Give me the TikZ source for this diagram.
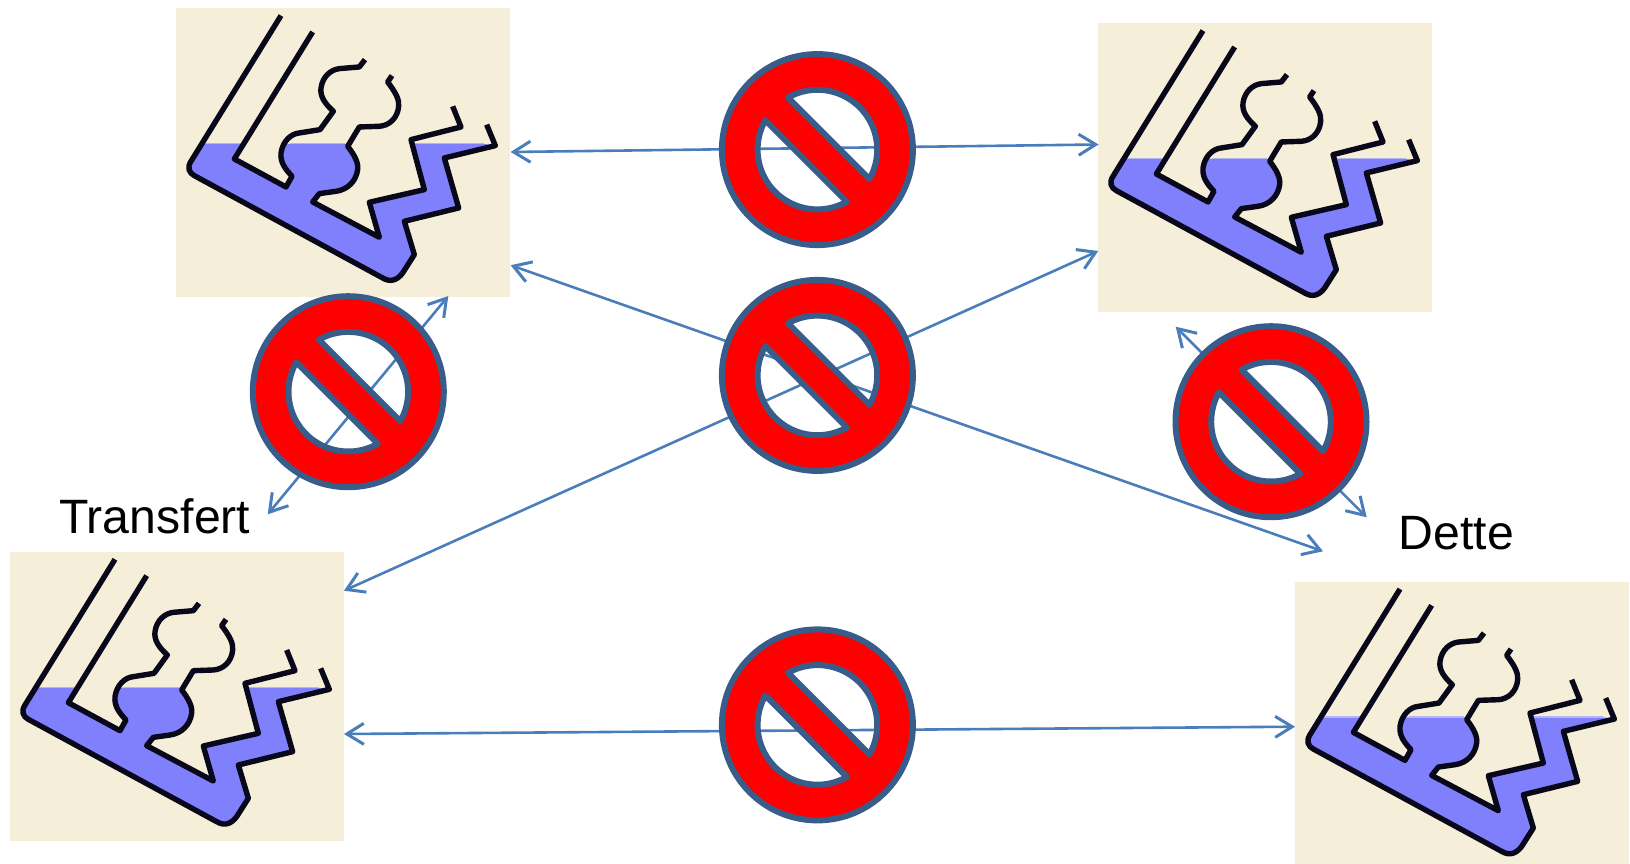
\documentclass[tikz,border=0pt]{standalone}
\usepackage{fontspec}
\setmainfont{Liberation Sans}
\usetikzlibrary{arrows.meta}
\definecolor{beige}{HTML}{F5EFD9}
\definecolor{waterblue}{HTML}{8080FC}
\definecolor{watertop}{HTML}{B4B4F0}
\definecolor{inkblack}{HTML}{08081A}
\definecolor{linkblue}{HTML}{4A7EBB}
\definecolor{signedge}{HTML}{385D8A}
\tikzset{
  iconbox/.style={fill=beige,draw=none,inner sep=0pt,outer sep=0pt,minimum width=334pt,minimum height=288.7pt,anchor=north west},
  waterfill/.style={fill=waterblue,draw=none},
  waterline/.style={draw=watertop,line width=1.2pt},
  inkline/.style={draw=inkblack,line width=5.4pt,line join=round},
  link/.style={draw=linkblue,line width=2.6pt,{Straight Barb[length=17pt,width=21pt,line width=3pt]}-{Straight Barb[length=17pt,width=21pt,line width=3pt]}},
  signshape/.style={fill=red,draw=signedge,line width=6pt,line join=round,even odd rule},
  caption/.style={font=\fontsize{48.2pt}{50pt}\selectfont,text=black,inner sep=0pt,anchor=base west}
}
\newcommand\iconart[2]{%
\begin{scope}[shift={(#1,#2)},xscale=1/3,yscale=1/3]
\path[waterfill] (112,623) -- (75,675) .. controls (62,695) and (70,710) .. (85,718) -- (650,1025)
  .. controls (675,1040) and (695,1030) .. (710,1010) -- (745,955) -- (715,855) -- (878,815) -- (835,665) -- (988,628)
  -- (955,623) -- (740,623) -- (775,760) -- (610,798) -- (640,903) -- (440,797) -- (460,772) -- (510,765)
  .. controls (545,760) and (570,735) .. (575,700) .. controls (578,680) and (565,655) .. (545,630)
  -- (540,623) -- (358,623) .. controls (350,632) and (346,640) .. (345,650) .. controls (342,680) and (360,700) .. (378,720)
  -- (360,752) -- (205,668) -- (233,623) -- cycle;
\draw[waterline] (118,622) -- (225,622) (372,622) -- (537,622) (748,622) -- (955,622);
\draw[inkline] (345,238) -- (75,675) .. controls (62,695) and (70,710) .. (85,718) -- (650,1025)
  .. controls (675,1040) and (695,1030) .. (710,1010) -- (745,955) -- (715,855) -- (878,815) -- (835,665) -- (988,628) -- (962,565);
\draw[inkline] (440,287) -- (205,668) -- (360,752) -- (378,720)
  .. controls (360,700) and (342,680) .. (345,650) .. controls (350,615) and (375,592) .. (400,590) -- (462,580) -- (502,525)
  .. controls (475,500) and (462,480) .. (465,455) .. controls (470,420) and (495,400) .. (520,397) -- (580,392) -- (597,370);
\draw[inkline] (678,418) -- (665,437) .. controls (690,470) and (700,490) .. (698,510) .. controls (695,545) and (670,568) .. (640,570)
  -- (580,572) -- (545,630) .. controls (565,655) and (578,680) .. (575,700) .. controls (570,735) and (545,760) .. (510,765)
  -- (460,772) -- (440,797) -- (640,903) -- (610,798) -- (775,760) -- (735,610) -- (885,572) -- (860,510);
\end{scope}}
\newcommand\nosign[2]{%
\begin{scope}[shift={(#1,#2)}]
\path[signshape] (0,0) circle (95.5pt)
  plot[domain=-119.5:29.5,samples=50] ({59.8*cos(\x)},{59.8*sin(\x)}) -- cycle
  plot[domain=60.5:209.5,samples=50] ({59.8*cos(\x)},{59.8*sin(\x)}) -- cycle;
\end{scope}}
\begin{document}
\begin{tikzpicture}[x=1pt,y=-1pt]
\useasboundingbox (0,0) rectangle (1630,864);
% picture boxes
\node[iconbox] (iconA) at (176,8.3) {};
\node[iconbox] (iconB) at (1098,23.3) {};
\node[iconbox] (iconC) at (10,552) {};
\node[iconbox] (iconD) at (1295,581.7) {};
\iconart{166}{-63.7}
\iconart{1088}{-48.7}
\iconart{0}{480}
\iconart{1285}{509.7}
% labels
\node[caption] (transfert) at (59,533) {Transfert};
\node[caption] (dette) at (1398.5,549.3) {Dette};
% connector ends
\coordinate (a1) at (510.6,152);
\coordinate (b1) at (1098.5,144.5);
\coordinate (a2) at (510.6,265.2);
\coordinate (d2) at (1323,551.3);
\coordinate (c3) at (344,590.7);
\coordinate (b3) at (1098.2,251);
\coordinate (c4) at (344,734);
\coordinate (d4) at (1295,726.7);
\coordinate (a5) at (448.3,296);
\coordinate (c5) at (267.7,514.3);
\coordinate (b6) at (1175.7,326.7);
\coordinate (d6) at (1366.7,517.3);
\draw[link] (a1) -- (b1);
\draw[link] (a2) -- (d2);
\draw[link] (c3) -- (b3);
\draw[link] (c4) -- (d4);
\draw[link] (a5) -- (c5);
\draw[link] (b6) -- (d6);
% prohibition signs
\nosign{817.4}{149.6}
\nosign{817.4}{375.4}
\nosign{817.4}{724.9}
\nosign{348.3}{391.7}
\nosign{1271}{421.7}
\end{tikzpicture}
\end{document}
